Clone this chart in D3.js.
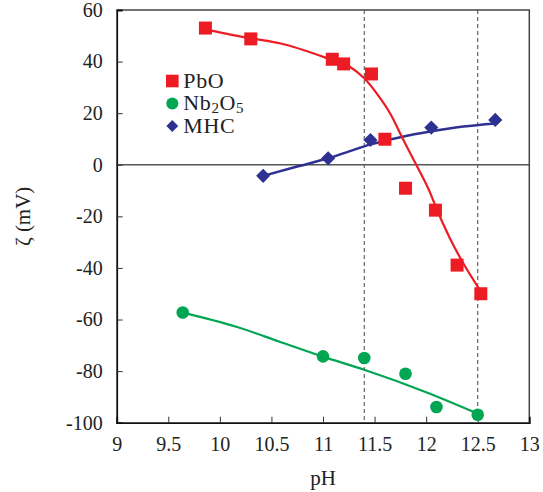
<!DOCTYPE html>
<html>
<head>
<meta charset="utf-8">
<script src="https://cdn.jsdelivr.net/npm/d3@7"></script>
<style>
  html, body { margin: 0; padding: 0; background: #fff; }
  svg { display: block; }
  text { font-family: "Liberation Serif", "DejaVu Serif", serif; fill: #222; }
</style>
</head>
<body>
<svg id="chart" width="543" height="492"></svg>
<script>
// pH axis ticks and zeta-potential ticks
const phTicks = [9, 9.5, 10, 10.5, 11, 11.5, 12, 12.5, 13];
const zetaTicks = [-100, -80, -60, -40, -20, 0, 20, 40, 60];

// Measured zeta potentials (mV) versus pH
const pboPH   = [9.86, 10.30, 11.09, 11.20, 11.47, 11.60, 11.80, 12.09, 12.30, 12.53];
const pboZeta = [53.0, 48.8, 40.9, 39.1, 35.2, 9.9, -9.1, -17.6, -38.9, -50.0];

const nbPH    = [9.64, 11.00, 11.40, 11.80, 12.10, 12.50];
const nbZeta  = [-57.3, -74.3, -74.9, -81.0, -93.9, -96.9];

const mhcPH   = [10.42, 11.05, 11.46, 12.05, 12.67];
const mhcZeta = [-4.3, 2.5, 9.6, 14.4, 17.4];

// Fitted trend curves
const pboFitPH   = [9.86, 10.30, 10.58, 11.04, 11.26, 11.40, 11.52, 11.65, 11.78, 11.91, 12.04, 12.09, 12.23, 12.36, 12.51];
const pboFitZeta = [52.5, 49.0, 47.1, 41.3, 38.0, 33.5, 27.7, 20.0, 9.6, -0.5, -11.0, -16.0, -28.5, -38.2, -47.9];

const nbFitPH    = [9.64, 10.16, 10.58, 11.00, 11.40, 12.00, 12.50];
const nbFitZeta  = [-57.3, -62.8, -68.6, -74.4, -79.5, -88.2, -96.5];

const mhcFitPH   = [10.42, 10.75, 11.05, 11.26, 11.46, 11.75, 12.04, 12.36, 12.67];
const mhcFitZeta = [-4.3, -0.7, 2.5, 5.3, 7.9, 10.7, 12.9, 14.8, 16.0];

// Reference pH values marked with dashed lines
const markPH = [11.4, 12.5];

const seriesNames = ["PbO", "Nb2O5", "MHC"];

const RED = "#ed1c24", GREEN = "#00a651", NAVY = "#2e3192";
const SERIF = '"Liberation Serif", "DejaVu Serif", serif';

const svg = d3.select("#chart");
const plotL = 116.7, plotR = 529.3, plotT = 10, plotB = 422.7;

const x = d3.scaleLinear().domain([9, 13]).range([plotL, plotR]);
const y = d3.scaleLinear().domain([-100, 60]).range([plotB, plotT]);

// zero line
svg.append("line")
  .attr("x1", plotL).attr("x2", plotR)
  .attr("y1", y(0)).attr("y2", y(0))
  .attr("stroke", "#555").attr("stroke-width", 1.3);

// dashed reference lines
svg.selectAll("line.mark").data(markPH).join("line")
  .attr("class", "mark")
  .attr("x1", d => x(d)).attr("x2", d => x(d))
  .attr("y1", plotT).attr("y2", plotB)
  .attr("stroke", "#555").attr("stroke-width", 1.1)
  .attr("stroke-dasharray", "4,3");

// frame top/right
svg.append("path")
  .attr("d", `M${plotL},${plotT}H${plotR}V${plotB}`)
  .attr("fill", "none").attr("stroke", "#444").attr("stroke-width", 1.5);

// axes
const xAxis = d3.axisBottom(x).tickValues(phTicks).tickSize(-6).tickPadding(14)
  .tickFormat(d => String(d));
const yAxis = d3.axisLeft(y).tickValues(zetaTicks).tickSize(-6).tickPadding(14)
  .tickFormat(d => String(d));

const gx = svg.append("g").attr("transform", `translate(0,${plotB})`).call(xAxis);
const gy = svg.append("g").attr("transform", `translate(${plotL},0)`).call(yAxis);
[gx, gy].forEach(g => {
  g.attr("font-family", null).attr("font-size", null);
  g.select(".domain").attr("stroke", "#111").attr("stroke-width", 1.8);
  g.selectAll(".tick line").attr("stroke", "#333").attr("stroke-width", 1);
  g.selectAll(".tick text")
    .style("font-family", SERIF)
    .style("font-size", "20px").attr("fill", "#222");
});
// ticks at the ends coincide with the frame
gx.selectAll(".tick").filter(d => d === 9 || d === 13).select("line").remove();
gy.selectAll(".tick").filter(d => d === -100 || d === 60).select("line").remove();

// axis titles
svg.append("text")
  .attr("x", (plotL + plotR) / 2).attr("y", 485)
  .attr("text-anchor", "middle").style("font-family", SERIF).style("font-size", "21px")
  .text("pH");
svg.append("text")
  .attr("transform", `translate(30,${(plotT + plotB) / 2}) rotate(-90)`)
  .attr("text-anchor", "middle").style("font-family", SERIF).style("font-size", "21px")
  .text("ζ (mV)");

// fitted curves
const line = d3.line().x(d => x(d[0])).y(d => y(d[1])).curve(d3.curveMonotoneX);
const zip = (a, b) => a.map((v, i) => [v, b[i]]);
svg.append("path").datum(zip(nbFitPH, nbFitZeta))
  .attr("d", line).attr("fill", "none").attr("stroke", GREEN).attr("stroke-width", 2.2);
svg.append("path").datum(zip(mhcFitPH, mhcFitZeta))
  .attr("d", line).attr("fill", "none").attr("stroke", NAVY).attr("stroke-width", 2.5);
svg.append("path").datum(zip(pboFitPH, pboFitZeta))
  .attr("d", line).attr("fill", "none").attr("stroke", RED).attr("stroke-width", 2.2);

// markers
const sq = 13;
svg.selectAll("rect.pbo").data(zip(pboPH, pboZeta)).join("rect")
  .attr("class", "pbo")
  .attr("x", d => x(d[0]) - sq / 2).attr("y", d => y(d[1]) - sq / 2)
  .attr("width", sq).attr("height", sq).attr("fill", RED);

svg.selectAll("circle.nb").data(zip(nbPH, nbZeta)).join("circle")
  .attr("class", "nb")
  .attr("cx", d => x(d[0])).attr("cy", d => y(d[1]))
  .attr("r", 6.3).attr("fill", GREEN);

const diamond = d3.symbol().type(d3.symbolSquare).size(100);
svg.selectAll("path.mhc").data(zip(mhcPH, mhcZeta)).join("path")
  .attr("class", "mhc")
  .attr("transform", d => `translate(${x(d[0])},${y(d[1])}) rotate(45)`)
  .attr("d", diamond).attr("fill", NAVY);

// legend
const lg = svg.append("g").attr("transform", "translate(172.3,0)");
const legY = [81, 103.5, 126];
lg.append("rect").attr("x", -6.3).attr("y", legY[0] - 6.3)
  .attr("width", 12.6).attr("height", 12.6).attr("fill", RED);
lg.append("circle").attr("cx", 0).attr("cy", legY[1]).attr("r", 6).attr("fill", GREEN);
lg.append("path").attr("d", d3.symbol().type(d3.symbolSquare).size(70))
  .attr("transform", `translate(0,${legY[2]}) rotate(45)`).attr("fill", NAVY);

const lt = (i) => lg.append("text").attr("x", 11).attr("y", legY[i] + 6.8)
  .style("font-family", SERIF).style("font-size", "22px").attr("letter-spacing", 0.6);
lt(0).text(seriesNames[0]);
const nbText = lt(1);
nbText.append("tspan").text("Nb");
nbText.append("tspan").style("font-size", "15px").attr("dy", 3).text("2");
nbText.append("tspan").attr("dy", -3).text("O");
nbText.append("tspan").style("font-size", "15px").attr("dy", 3).text("5");
lt(2).text(seriesNames[2]);
</script>
</body>
</html>
